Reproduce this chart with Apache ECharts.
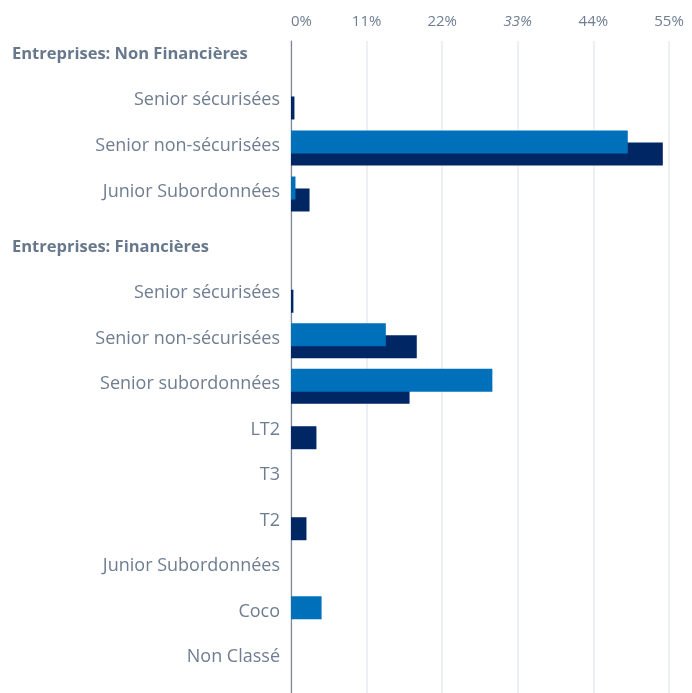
<!DOCTYPE html>
<html>
<head>
<meta charset="utf-8">
<script src="https://cdn.jsdelivr.net/npm/echarts@6/dist/echarts.min.js"></script>
<style>html,body{margin:0;padding:0;background:#fff}#c{width:692px;height:693px}</style>
</head>
<body>
<div id="c"></div>
<script>
// Categories (two groups)
const categoriesNF = ['Entreprises: Non Financières', 'Senior sécurisées', 'Senior non-sécurisées', 'Junior Subordonnées'];
const categoriesF = ['Entreprises: Financières', 'Senior sécurisées', 'Senior non-sécurisées', 'Senior subordonnées', 'LT2', 'T3', 'T2', 'Junior Subordonnées', 'Coco', 'Non Classé'];
const headerLabels = ['Entreprises: Non Financières', 'Entreprises: Financières'];
// Series values (%)
const lightNF = [null, 0, 49.0, 0.65];
const darkNF = [null, 0.5, 54.1, 2.7];
const lightF = [null, 0, 13.8, 29.3, 0, 0, 0, 0, 4.45, 0];
const darkF = [null, 0.35, 18.3, 17.25, 3.7, 0, 2.25, 0, 0, 0];
// Axis ticks
const xTicks = [0, 11, 22, 33, 44, 55];
const italicTicks = [33];

const LIGHT = '#0070BA';
const DARK = '#002664';
const TXT = '#6e7d91';
const FONT = 'Open Sans';

const chart = echarts.init(document.getElementById('c'), null, {renderer: 'canvas'});

function yCat(gridIndex, cats) {
  return {
    type: 'category', gridIndex: gridIndex, data: cats, inverse: true,
    axisLine: {show: false}, axisTick: {show: false}, splitLine: {show: false},
    axisLabel: {
      margin: 11, color: TXT, fontFamily: FONT, fontSize: 18, padding: [0, 0, 4, 0],
      formatter: v => headerLabels.includes(v) ? '{h|' + v + '}' : v,
      rich: {h: {width: 268, align: 'left', fontWeight: 'bold', fontSize: 16.5, color: '#67778c', fontFamily: FONT}}
    }
  };
}
function xHidden(gridIndex) {
  return {type: 'value', gridIndex: gridIndex, min: xTicks[0], max: xTicks[xTicks.length - 1], interval: xTicks[1] - xTicks[0], show: false};
}
function barSeries(name, data, color, ax, z) {
  return {name: name, type: 'bar', xAxisIndex: ax, yAxisIndex: ax, data: data, barWidth: 23, barGap: '-48%',
    itemStyle: {color: color}, z: z, silent: true, animation: false};
}

chart.setOption({
  backgroundColor: '#fff',
  animation: false,
  grid: [
    {left: 291, right: 23, top: 33, height: 184},
    {left: 291, right: 23, top: 227, height: 455},
    {left: 291, right: 23, top: 41, bottom: 0}
  ],
  xAxis: [
    xHidden(0), xHidden(1),
    {
      type: 'value', gridIndex: 2, position: 'top', min: xTicks[0], max: xTicks[xTicks.length - 1], interval: xTicks[1] - xTicks[0],
      axisLine: {show: false}, axisTick: {show: false},
      splitLine: {show: true, lineStyle: {color: '#e6ebf1', width: 1.5}},
      axisLabel: {
        margin: 12, color: TXT, fontFamily: FONT, fontSize: 15, alignMinLabel: 'left',
        formatter: v => italicTicks.includes(v) ? '{i|' + v + '%}' : v + '%',
        rich: {i: {fontStyle: 'italic', color: TXT, fontFamily: FONT, fontSize: 15}}
      }
    }
  ],
  yAxis: [
    yCat(0, categoriesNF), yCat(1, categoriesF),
    {type: 'value', gridIndex: 2, min: 0, max: 1, axisLabel: {show: false}, axisTick: {show: false}, splitLine: {show: false},
     axisLine: {show: true, lineStyle: {color: '#7d8797', width: 1.2}}}
  ],
  series: [
    barSeries('Série 1', lightNF, LIGHT, 0, 3),
    barSeries('Série 2', darkNF, DARK, 0, 2),
    barSeries('Série 1', lightF, LIGHT, 1, 3),
    barSeries('Série 2', darkF, DARK, 1, 2)
  ]
});
</script>
</body>
</html>
